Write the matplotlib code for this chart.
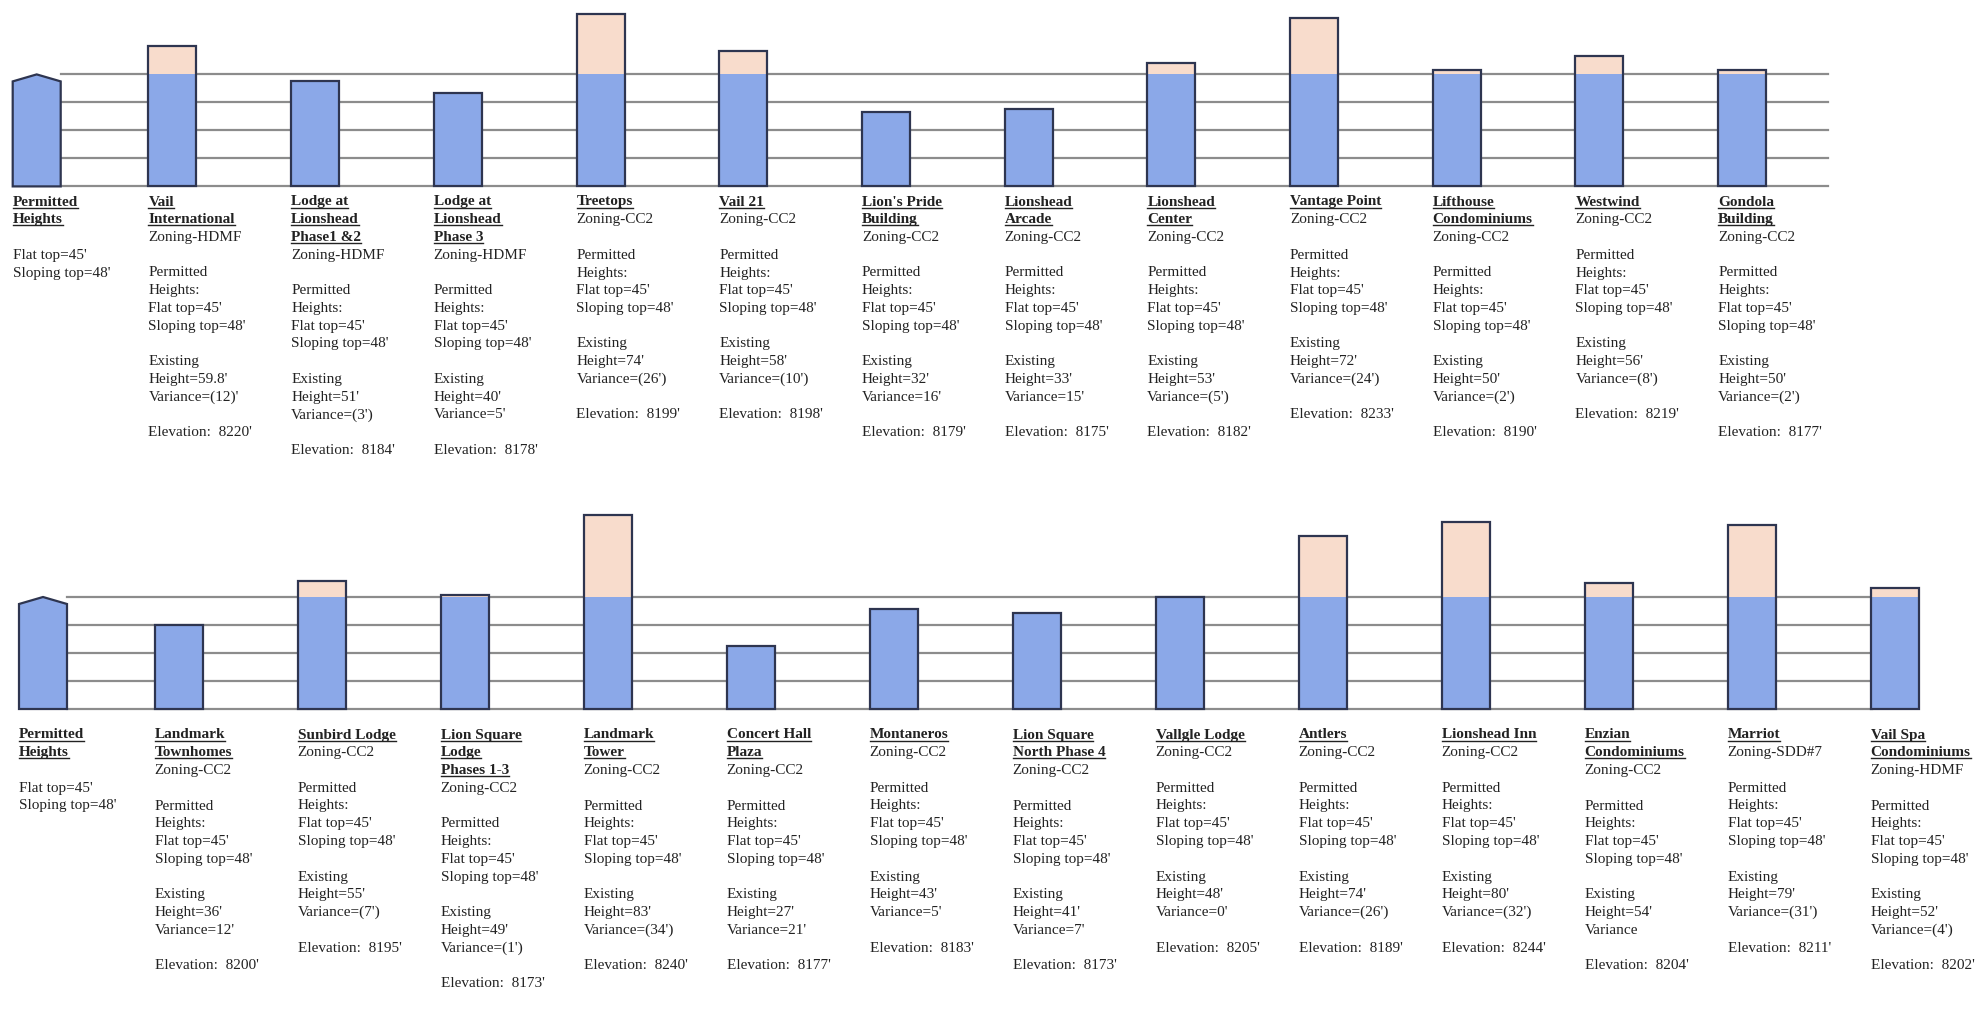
import matplotlib
matplotlib.use("Agg")
import matplotlib.pyplot as plt
from matplotlib.patches import Rectangle, Polygon
from matplotlib.lines import Line2D

W, H = 1988, 1024
PX_PER_FT = 112 / 48

# permitted envelope and guide lines (ft)
FLAT_TOP = 45
SLOPING_TOP = 48
GUIDES = [0, 12, 24, 36, 48]

# ---- top row -------------------------------------------------------------
top_names = [["Vail", "International"], ["Lodge at", "Lionshead", "Phase1 &2"],
             ["Lodge at", "Lionshead", "Phase 3"], ["Treetops"], ["Vail 21"],
             ["Lion's Pride", "Building"], ["Lionshead", "Arcade"],
             ["Lionshead", "Center"], ["Vantage Point"],
             ["Lifthouse", "Condominiums"], ["Westwind"], ["Gondola", "Building"]]
top_zoning = ["HDMF", "HDMF", "HDMF", "CC2", "CC2", "CC2", "CC2", "CC2",
              "CC2", "CC2", "CC2", "CC2"]
top_height = ["59.8'", "51'", "40'", "74'", "58'", "32'", "33'", "53'",
              "72'", "50'", "56'", "50'"]
top_variance = ["(12)'", "(3')", "5'", "(26')", "(10')", "16'", "15'", "(5')",
                "(24')", "(2')", "(8')", "(2')"]
top_elev = ["8220'", "8184'", "8178'", "8199'", "8198'", "8179'", "8175'",
            "8182'", "8233'", "8190'", "8219'", "8177'"]
# bar heights as drawn in the sketch (ft)
top_drawn = [60, 45, 40, 74, 58, 32, 33, 53, 72, 50, 56, 50]

# ---- bottom row ----------------------------------------------------------
bot_names = [["Landmark", "Townhomes"], ["Sunbird Lodge"],
             ["Lion Square", "Lodge", "Phases 1-3"], ["Landmark", "Tower"],
             ["Concert Hall", "Plaza"], ["Montaneros"],
             ["Lion Square", "North Phase 4"], ["Vallgle Lodge"], ["Antlers"],
             ["Lionshead Inn"], ["Enzian", "Condominiums"], ["Marriot"],
             ["Vail Spa", "Condominiums"]]
bot_zoning = ["CC2", "CC2", "CC2", "CC2", "CC2", "CC2", "CC2", "CC2", "CC2",
              "CC2", "CC2", "SDD#7", "HDMF"]
bot_height = ["36'", "55'", "49'", "83'", "27'", "43'", "41'", "48'", "74'",
              "80'", "54'", "79'", "52'"]
bot_variance = ["12'", "(7')", "(1')", "(34')", "21'", "5'", "7'", "0'",
                "(26')", "(32')", None, "(31')", "(4')"]
bot_elev = ["8200'", "8195'", "8173'", "8240'", "8177'", "8183'", "8173'",
            "8205'", "8189'", "8244'", "8204'", "8211'", "8202'"]
bot_drawn = [36, 55, 49, 83, 27, 43, 41, 48, 74, 80, 54, 79, 52]

BLUE = "#8ba8e8"
PINK = "#f8dccc"
EDGE = "#2e3550"
GRID = "#8c8c8c"
TXT = "#222222"
BAR_W = 48
LINE_H = 17.75
FS = 11

plt.rcParams["font.family"] = ["Liberation Serif", "DejaVu Serif"]
fig = plt.figure(figsize=(W / 100, H / 100), dpi=100)
fig.patch.set_facecolor("white")

texts = []  # (text artist, underline?)


def draw_row(ax_top, ax_bot, baseline, perm_x, x0, step, drawn, line_end):
    # axes in pixel units: x -> px, y -> ft
    ax = fig.add_axes([0, 1 - ax_bot / H, 1, (ax_bot - ax_top) / H])
    ax.set_xlim(0, W)
    ax.set_ylim(-(ax_bot - baseline) / PX_PER_FT, (baseline - ax_top) / PX_PER_FT)
    ax.axis("off")
    for g in GUIDES:
        ax.plot([perm_x + BAR_W, line_end], [g, g], color=GRID, lw=1.6, zorder=1)
    # permitted heights silhouette
    ax.add_patch(Polygon([(perm_x, 0), (perm_x, FLAT_TOP),
                          (perm_x + BAR_W / 2, SLOPING_TOP),
                          (perm_x + BAR_W, FLAT_TOP), (perm_x + BAR_W, 0)],
                         closed=True, fc=BLUE, ec=EDGE, lw=1.6, zorder=3))
    for i, h in enumerate(drawn):
        x = x0 + i * step
        ax.bar(x, min(h, SLOPING_TOP), width=BAR_W, align="edge", color=BLUE,
               zorder=2)
        if h > SLOPING_TOP:
            ax.bar(x, h - SLOPING_TOP, bottom=SLOPING_TOP, width=BAR_W,
                   align="edge", color=PINK, zorder=2)
        ax.add_patch(Rectangle((x, 0), BAR_W, h, fill=False, ec=EDGE, lw=1.6,
                               zorder=3))
    return ax


def put_lines(x, y, lines):
    for k, (s, bold) in enumerate(lines):
        if not s:
            continue
        t = fig.text(x / W, 1 - (y + k * LINE_H) / H, s, ha="left", va="center",
                     fontsize=FS, color=TXT,
                     fontweight="bold" if bold else "normal")
        texts.append((t, bold))


def label_block(x, y, names, zoning, height, variance, elev):
    lines = [(n, True) for n in names]
    lines.append((f"Zoning-{zoning}", False))
    lines += [("", False), ("Permitted", False), ("Heights:", False),
              ("Flat top=45'", False), ("Sloping top=48'", False), ("", False),
              ("Existing", False), (f"Height={height}", False)]
    lines.append(("Variance" if variance is None else f"Variance={variance}", False))
    lines += [("", False), (f"Elevation:  {elev}", False)]
    put_lines(x, y, lines)


def permitted_block(x, y):
    put_lines(x, y, [("Permitted", True), ("Heights", True), ("", False),
                     ("Flat top=45'", False), ("Sloping top=48'", False)])


# top row
TOP_X0, TOP_STEP, TOP_PERM = 148.4, 142.7, 12.7
draw_row(0, 192, 186.4, TOP_PERM, TOP_X0, TOP_STEP, top_drawn, 1828)
permitted_block(TOP_PERM, 202)
for i in range(len(top_names)):
    label_block(TOP_X0 + i * TOP_STEP, 202, top_names[i], top_zoning[i],
                top_height[i], top_variance[i], top_elev[i])

# bottom row
BOT_X0, BOT_STEP, BOT_PERM = 154.7, 143.0, 19
draw_row(495, 715, 709, BOT_PERM, BOT_X0, BOT_STEP, bot_drawn, 1872)
permitted_block(BOT_PERM, 735)
for i in range(len(bot_names)):
    label_block(BOT_X0 + i * BOT_STEP, 735, bot_names[i], bot_zoning[i],
                bot_height[i], bot_variance[i], bot_elev[i])

# underline the building names
fig.canvas.draw()
renderer = fig.canvas.get_renderer()
for t, under in texts:
    if not under:
        continue
    bb = t.get_window_extent(renderer)
    y = (bb.y0 + 1) / H
    fig.add_artist(Line2D([bb.x0 / W, bb.x1 / W], [y, y], color=TXT, lw=1.0,
                          transform=fig.transFigure))

fig.savefig("out.png", dpi=100, facecolor="white")
